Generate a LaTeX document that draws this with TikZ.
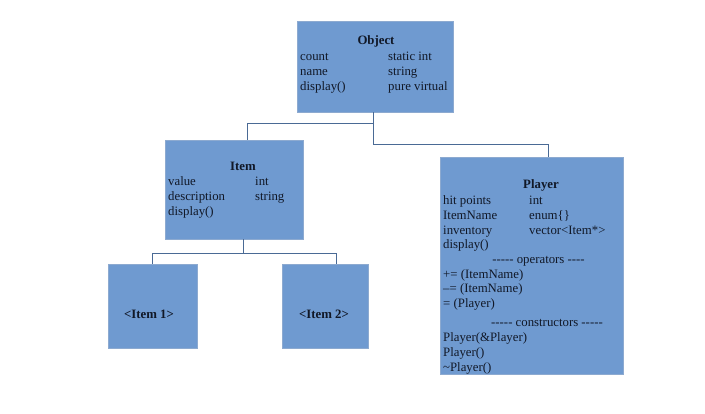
\documentclass[tikz,border=0pt]{standalone}
\usepackage{fontspec}
\setmainfont{Liberation Serif}[Ligatures=TeXOff]
\definecolor{boxfill}{HTML}{6F9AD0}
\definecolor{boxedge}{HTML}{8DAAD0}
\definecolor{linec}{HTML}{4A6A95}
\definecolor{txt}{HTML}{111827}
\tikzset{
  box/.style={draw=boxedge, fill=boxfill, line width=0.5pt, inner sep=0pt},
  lbl/.style={anchor=base west, inner sep=0pt, font=\fontsize{12.8}{14}\selectfont, text=txt},
  ctr/.style={anchor=base, inner sep=0pt, font=\fontsize{12.8}{14}\selectfont, text=txt},
  ttl/.style={anchor=base, inner sep=0pt, font=\fontsize{12.8}{14}\selectfont\bfseries, text=txt},
  conn/.style={draw=linec, line width=0.9pt}
}
\begin{document}
\begin{tikzpicture}[x=1pt,y=-1pt]
\path[fill=white, use as bounding box] (0,0) rectangle (705,414);
% boxes
\node[box, minimum width=156, minimum height=91] (obj) at (375,66.5) {};
\node[box, minimum width=138, minimum height=99] (item) at (234,189.5) {};
\node[box, minimum width=183, minimum height=217] (player) at (531.5,265.5) {};
\node[box, minimum width=89, minimum height=84] (it1) at (152.5,306) {};
\node[box, minimum width=86, minimum height=84] (it2) at (325,306) {};
% connectors
\draw[conn] ([xshift=-2]obj.south) -- ++(0,11) -| ([xshift=13]item.north);
\draw[conn] ([xshift=-2]obj.south) -- ++(0,32) -| ([xshift=16.5]player.north);
\draw[conn] ([xshift=9]item.south) -- ++(0,14) -| (it1.north);
\draw[conn] ([xshift=9]item.south) -- ++(0,14) -| ([xshift=11]it2.north);
% Object text
\node[ttl] (objt) at (376,44.5) {Object};
\node[lbl] (o1a) at (300,61) {count};
\node[lbl] (o1b) at (388,61) {static int};
\node[lbl] (o2a) at (300,76) {name};
\node[lbl] (o2b) at (388,76) {string};
\node[lbl] (o3a) at (300,90.5) {display()};
\node[lbl] (o3b) at (388,90.5) {pure virtual};
% Item text
\node[ttl] (itemt) at (243,171) {Item};
\node[lbl] (i1a) at (168,185.7) {value};
\node[lbl] (i1b) at (255,185.7) {int};
\node[lbl] (i2a) at (168,200.6) {description};
\node[lbl] (i2b) at (255,200.6) {string};
\node[lbl] (i3a) at (168,215.5) {display()};
% Player text
\node[ttl] (playert) at (541,189) {Player};
\node[lbl] (p1a) at (443,205) {hit points};
\node[lbl] (p1b) at (529,205) {int};
\node[lbl] (p2a) at (443,219.7) {ItemName};
\node[lbl] (p2b) at (529,219.7) {enum\{\}};
\node[lbl] (p3a) at (443,234.4) {inventory};
\node[lbl] (p3b) at (529,234.4) {vector<Item*>};
\node[lbl] (p4a) at (443,249) {display()};
\node[ctr] (pops) at (538.5,263.5) {----- operators ----};
\node[lbl] (p5) at (443,278.3) {+= (ItemName)};
\node[lbl] (p6) at (443,293) {–= (ItemName)};
\node[lbl] (p7) at (443,307.8) {= (Player)};
\node[ctr] (pcons) at (547,326.5) {----- constructors -----};
\node[lbl] (p8) at (443,341.5) {Player(\&Player)};
\node[lbl] (p9) at (443,356.3) {Player()};
\node[lbl] (p10) at (443,371) {\textasciitilde Player()};
% Item 1 / Item 2
\node[ttl] (it1t) at (149,318.5) {<Item 1>};
\node[ttl] (it2t) at (324,318.5) {<Item 2>};
\end{tikzpicture}
\end{document}
